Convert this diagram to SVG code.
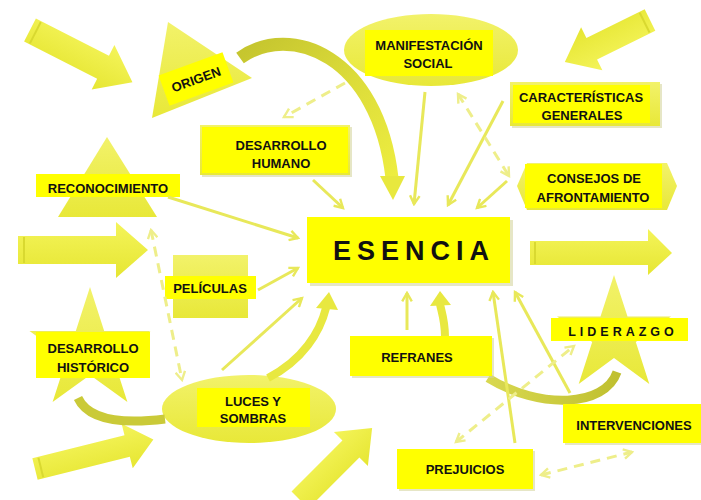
<svg xmlns="http://www.w3.org/2000/svg" width="701" height="500" viewBox="0 0 701 500">
<defs>
<linearGradient id="gShape" x1="0" y1="0" x2="0" y2="1">
<stop offset="0" stop-color="#F2F26A"/>
<stop offset="1" stop-color="#E8E838"/>
</linearGradient>
<linearGradient id="gArrow" x1="0" y1="0" x2="0" y2="1">
<stop offset="0" stop-color="#F4F45A"/>
<stop offset="1" stop-color="#E6E632"/>
</linearGradient>
<linearGradient id="gCurve1" x1="0" y1="0" x2="1" y2="1">
<stop offset="0" stop-color="#C4C42E"/>
<stop offset="0.5" stop-color="#DCDC3A"/>
<stop offset="1" stop-color="#EDED40"/>
</linearGradient>
<linearGradient id="gCurve2" x1="0" y1="0" x2="1" y2="0">
<stop offset="0" stop-color="#D8D850"/>
<stop offset="1" stop-color="#C0C030"/>
</linearGradient>
<marker id="ah" viewBox="0 0 10 10" refX="8" refY="5" markerWidth="4" markerHeight="4" orient="auto-start-reverse">
<path d="M1,1 L8,5 L1,9" fill="none" stroke="#E8E85A" stroke-width="2"/>
</marker>
<marker id="ahd" viewBox="0 0 10 10" refX="8" refY="5" markerWidth="4" markerHeight="4" orient="auto-start-reverse">
<path d="M1,1 L8,5 L1,9" fill="none" stroke="#EEEE8A" stroke-width="2"/>
</marker>
</defs>
<style>
.shape{fill:url(#gShape);}
.lbl{fill:#FFFF00;}
.shadow{fill:#D6D6A0;opacity:0.6;}
.t{font-family:"Liberation Sans",Arial,sans-serif;font-weight:bold;font-size:13px;fill:#111;text-anchor:middle;}
.big{fill:url(#gArrow);}
.stripe{stroke:#D9D930;stroke-width:2;}
.c{fill:none;stroke:#E8E85A;stroke-width:3;marker-end:url(#ah);}
.cd{fill:none;stroke:#EEEE8A;stroke-width:3;stroke-dasharray:10 7;marker-end:url(#ahd);marker-start:url(#ahd);}
.cd1{fill:none;stroke:#EEEE8A;stroke-width:3;stroke-dasharray:10 7;marker-end:url(#ahd);}
</style>
<rect width="701" height="500" fill="#FFFFFF"/>

<!-- big block arrows -->
<g id="block-arrows">
<g transform="translate(30,30) rotate(27)"><path class="big" d="M0,-13 L82,-13 L82,-25 L115,0 L82,25 L82,13 L0,13 Z"/><line class="stripe" x1="6" y1="-12" x2="6" y2="12"/></g>
<g transform="translate(650,20) rotate(153.7)"><path class="big" d="M0,-12 L65,-12 L65,-24 L95,0 L65,24 L65,12 L0,12 Z"/><line class="stripe" x1="6" y1="-11" x2="6" y2="11"/></g>
<g transform="translate(18,250)"><path class="big" d="M0,-14 L98,-14 L98,-28 L130,0 L98,28 L98,14 L0,14 Z"/><line class="stripe" x1="6" y1="-13" x2="6" y2="13"/></g>
<g transform="translate(530,253)"><path class="big" d="M0,-12 L118,-12 L118,-24 L142,0 L118,22 L118,12 L0,12 Z"/><line class="stripe" x1="5" y1="-11" x2="5" y2="11"/></g>
<g transform="translate(35,469) rotate(-14)"><path class="big" d="M0,-11 L95,-11 L95,-23 L122,0 L95,23 L95,11 L0,11 Z"/><line class="stripe" x1="6" y1="-10" x2="6" y2="10"/></g>
<g transform="translate(300,500) rotate(-45)"><path class="big" d="M0,-12 L72,-12 L72,-24 L102,0 L72,24 L72,12 L0,12 Z"/></g>
</g>

<!-- background shapes -->
<g id="n-origen">
<polygon class="shape" points="168,22 152,118 252,78"/>
<g transform="translate(196,79) rotate(-20)">
<rect class="lbl" x="-34" y="-16" width="68" height="32"/>
<text class="t" x="0" y="5">ORIGEN</text>
</g>
</g>

<g id="n-manifestacion">
<ellipse class="shape" cx="431" cy="50" rx="87" ry="36"/>
<rect class="lbl" x="365" y="30" width="128" height="46"/>
<text class="t" x="429" y="50">MANIFESTACIÓN</text>
<text class="t" x="428" y="68">SOCIAL</text>
</g>

<g id="n-caracteristicas">
<rect class="shadow" x="512" y="84" width="150" height="44"/>
<rect class="shape" x="510" y="82" width="150" height="44"/>
<rect class="lbl" x="513" y="85" width="137" height="38"/>
<text class="t" x="581" y="102">CARACTERÍSTICAS</text>
<text class="t" x="582" y="120">GENERALES</text>
</g>

<g id="n-consejos">
<polygon class="shape" points="517,186 527,163 667,163 677,186 667,210 527,210"/>
<rect class="lbl" x="525" y="164" width="137" height="44"/>
<text class="t" x="594" y="183">CONSEJOS DE</text>
<text class="t" x="593" y="202">AFRONTAMIENTO</text>
</g>

<g id="n-desarrollo-humano">
<rect class="shadow" x="202" y="127" width="150" height="50"/>
<rect class="shape" x="200" y="125" width="150" height="50"/>
<rect class="lbl" x="202" y="127" width="146" height="46"/>
<text class="t" x="281" y="150">DESARROLLO</text>
<text class="t" x="281" y="168">HUMANO</text>
</g>

<g id="n-reconocimiento">
<polygon class="shape" points="107,137 58,217 157,217"/>
<rect class="lbl" x="36" y="174" width="144" height="23"/>
<text class="t" x="108" y="193">RECONOCIMIENTO</text>
</g>

<g id="n-peliculas">
<rect class="shape" x="173" y="255" width="75" height="63"/>
<rect class="lbl" x="165" y="276" width="91" height="23"/>
<text class="t" x="210" y="293">PELÍCULAS</text>
</g>

<g id="n-desarrollo-historico">
<polygon class="shape" points="90,287 104.2,331 150.5,331 113.2,358 127.4,402 90,375 52.6,402 66.8,358 29.5,331 75.8,331"/>
<rect class="lbl" x="36" y="332" width="114" height="46"/>
<text class="t" x="93" y="353">DESARROLLO</text>
<text class="t" x="93" y="372">HISTÓRICO</text>
</g>

<g id="n-liderazgo">
<polygon class="shape" points="614,275 627.5,316.5 671,316.5 635.8,342 649.3,384 614,358 578.7,384 592.2,342 557,316.5 600.5,316.5"/>
<rect class="lbl" x="551" y="318" width="137" height="23"/>
<text class="t" x="623" y="336" style="font-size:12.5px;letter-spacing:4px">LIDERAZGO</text>
</g>

<g id="n-luces">
<ellipse class="shape" cx="249" cy="409" rx="87" ry="34"/>
<rect class="lbl" x="197" y="388" width="113" height="39"/>
<text class="t" x="253" y="406">LUCES Y</text>
<text class="t" x="253" y="423">SOMBRAS</text>
</g>

<!-- curved bands -->
<g id="curves">
<path d="M240,58 C290,22 378,55 392,178" fill="none" stroke="url(#gCurve1)" stroke-width="13"/>
<polygon points="380,176 405,176 393,200" fill="#E8E83E"/>
<path d="M78,398 Q92,428 165,419" fill="none" stroke="#CACA38" stroke-width="9"/>
<path d="M617,372 C605,407 540,410 488,378" fill="none" stroke="url(#gCurve2)" stroke-width="9"/>
</g>

<!-- connectors -->
<g id="connectors">
<line class="c" x1="168" y1="197" x2="298" y2="238"/>
<line class="c" x1="313" y1="180" x2="343" y2="208"/>
<line class="c" x1="425" y1="92" x2="414" y2="204"/>
<line class="c" x1="503" y1="101" x2="448" y2="205"/>
<line class="c" x1="507" y1="181" x2="477" y2="208"/>
<line class="cd" x1="458" y1="94" x2="509" y2="176"/>
<line class="cd1" x1="345" y1="83" x2="284" y2="117"/>
<line class="cd" x1="151" y1="230" x2="182" y2="380"/>
<line class="c" x1="258" y1="290" x2="298" y2="268"/>
<line class="c" x1="222" y1="370" x2="302" y2="298"/>
<path d="M268,378 C303,360 320,332 326,308" fill="none" stroke="#E8E840" stroke-width="8"/>
<polygon points="316,308 338,310 329,292" fill="#E8E840"/>
<line class="c" x1="407" y1="330" x2="407" y2="293"/>
<path d="M445,337 C445,320 441,310 440,304" fill="none" stroke="#E8E840" stroke-width="8"/>
<polygon points="430,306 451,305 440,291" fill="#E8E840"/>
<line class="c" x1="515" y1="443" x2="493" y2="292"/>
<line class="c" x1="570" y1="393" x2="515" y2="292"/>
<line class="cd" x1="456" y1="442" x2="574" y2="346"/>
<line class="cd" x1="541" y1="475" x2="632" y2="452"/>
</g>

<g id="n-esencia">
<rect class="shadow" x="310" y="220" width="203" height="66"/>
<rect class="lbl" x="307" y="217" width="203" height="66"/>
<text class="t" x="414" y="260" style="font-size:27px;letter-spacing:6px">ESENCIA</text>
</g>

<g id="n-refranes">
<rect class="shadow" x="352" y="338" width="142" height="40"/>
<rect class="lbl" x="350" y="336" width="142" height="40"/>
<text class="t" x="417" y="362">REFRANES</text>
</g>

<g id="n-intervenciones">
<rect class="shadow" x="565" y="406" width="138" height="39"/>
<rect class="lbl" x="563" y="404" width="138" height="39"/>
<text class="t" x="634" y="430">INTERVENCIONES</text>
</g>

<g id="n-prejuicios">
<rect class="shadow" x="399" y="451" width="136" height="40"/>
<rect class="lbl" x="397" y="449" width="136" height="40"/>
<text class="t" x="465" y="474">PREJUICIOS</text>
</g>
</svg>
